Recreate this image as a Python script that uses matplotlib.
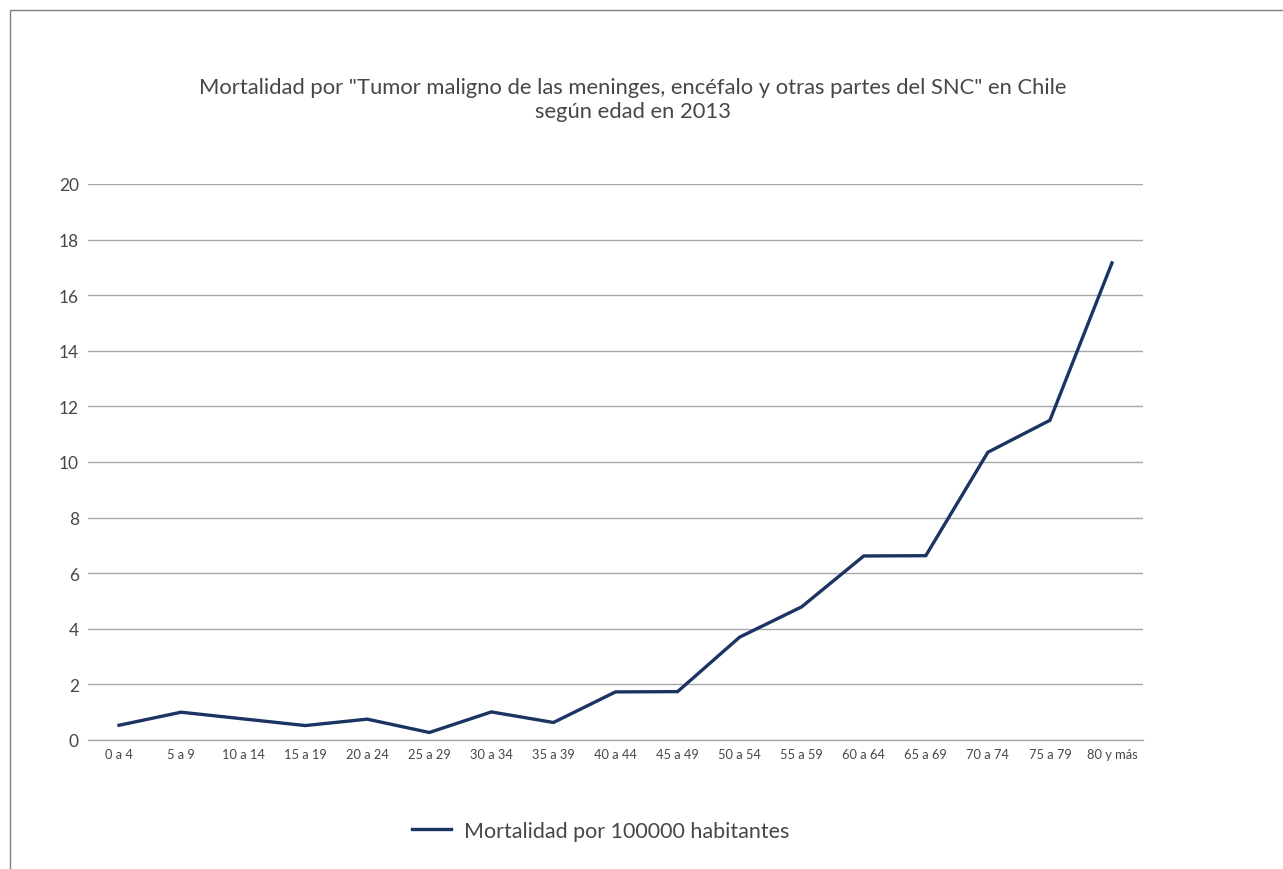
import matplotlib
matplotlib.use("Agg")
import matplotlib.pyplot as plt
from matplotlib.lines import Line2D
from matplotlib.patches import Rectangle

categories = ["0 a 4", "5 a 9", "10 a 14", "15 a 19", "20 a 24", "25 a 29", "30 a 34",
              "35 a 39", "40 a 44", "45 a 49", "50 a 54", "55 a 59", "60 a 64",
              "65 a 69", "70 a 74", "75 a 79", "80 y más"]
values = [0.53, 1.0, 0.76, 0.52, 0.75, 0.27, 1.01, 0.63, 1.73, 1.74, 3.7, 4.79,
          6.62, 6.63, 10.35, 11.5, 17.16]
yticks = [0, 2, 4, 6, 8, 10, 12, 14, 16, 18, 20]

title = 'Mortalidad por "Tumor maligno de las meninges, encéfalo y otras partes del SNC" en Chile\nsegún edad en 2013'
legend_label = "Mortalidad por 100000 habitantes"

plt.rcParams['font.family'] = ['Lato', 'DejaVu Sans']
W, H = 1283, 870
fig = plt.figure(figsize=(W / 100, H / 100), dpi=100)
fig.patch.set_facecolor("white")

# outer border
fig.add_artist(Rectangle((10 / W, -0.1), 1.2, 1 - 11 / H + 0.1, transform=fig.transFigure,
                         fill=False, edgecolor="#7f7f7f", linewidth=1))

ax_l, ax_r = 88 / W, 1143 / W
ax_b, ax_t = (H - 741) / H, (H - 185) / H
ax = fig.add_axes([ax_l, ax_b, ax_r - ax_l, ax_t - ax_b])

line_color = "#1b3462"
text_color = "#474747"
x = list(range(len(categories)))
ax.plot(x, values, color=line_color, linewidth=2.4, solid_joinstyle="miter")

ax.set_xlim(-0.5, len(categories) - 0.5)
ax.set_ylim(0, 20)
ax.set_yticks(yticks)
ax.set_yticklabels([str(v) for v in yticks], fontsize=12.5, color=text_color)
ax.set_xticks(x)
ax.set_xticklabels(categories, fontsize=9.3, color=text_color)
ax.tick_params(axis="both", length=0)
ax.tick_params(axis="y", pad=6.5)
ax.tick_params(axis="x", pad=6)
ax.grid(axis="y", color="#a6a6a6", linewidth=1)
ax.set_axisbelow(True)
for s in ["top", "right", "left"]:
    ax.spines[s].set_visible(False)
ax.spines["bottom"].set_color("#a6a6a6")
ax.spines["bottom"].set_linewidth(1)

fig.text(633 / W, 1 - 100.5 / H, title, ha="center", va="center", fontsize=15.8,
         color=text_color, linespacing=1.25)

handle = Line2D([0], [0], color=line_color, linewidth=2.4)
fig.legend([handle], [legend_label], loc="center", bbox_to_anchor=(601 / W, 1 - 832 / H),
           frameon=False, handlelength=1.8, handletextpad=0.6,
           labelcolor=text_color, prop={"size": 15.5})

fig.savefig("out.png", dpi=100, facecolor="white")
